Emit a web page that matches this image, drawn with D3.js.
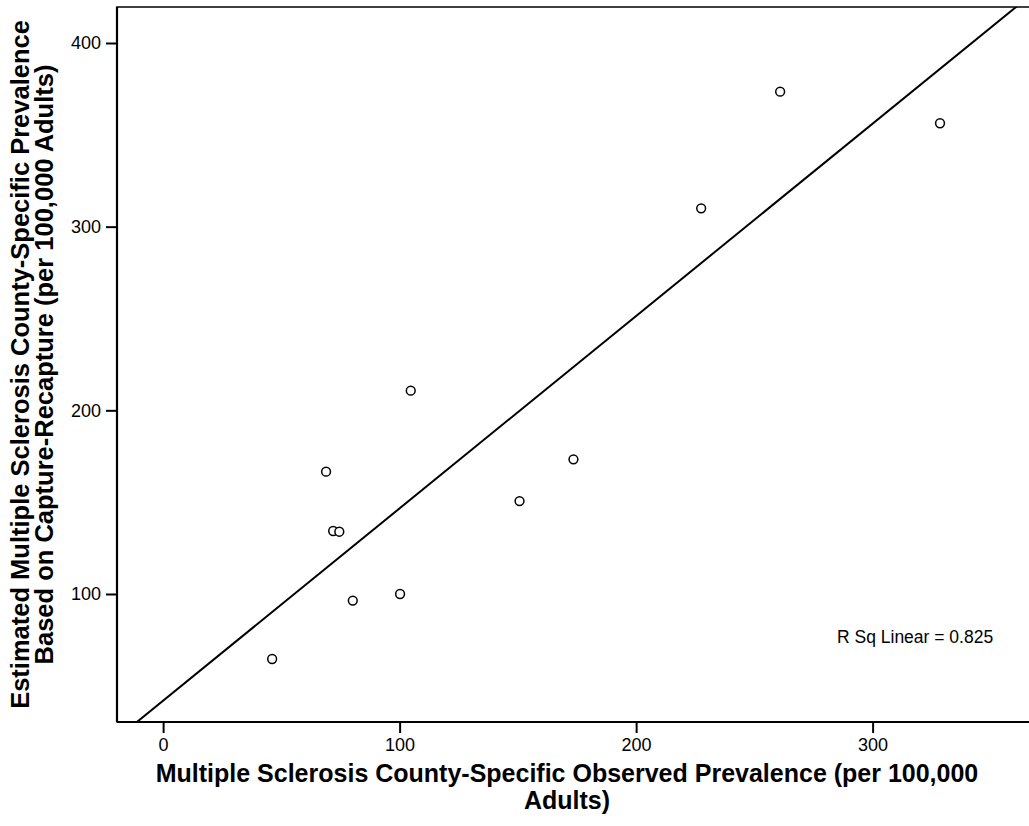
<!DOCTYPE html>
<html>
<head>
<meta charset="utf-8">
<script src="https://cdn.jsdelivr.net/npm/d3@7"></script>
<style>
  body { margin: 0; background: #fff; }
  svg text { font-family: Arial, "Liberation Sans", sans-serif; fill: #000; }
</style>
</head>
<body>
<svg id="chart" width="1029" height="826"></svg>
<script>
// observed prevalence (x) and capture-recapture estimate (y), per 100,000 adults
var observed  = [46.1, 68.9, 71.9, 74.5, 80.2, 100.2, 104.7, 150.7, 173.5, 227.5, 260.9, 328.5];
var estimated = [64.6, 166.6, 134.3, 133.9, 96.4, 100.0, 210.7, 150.6, 173.3, 310.0, 373.5, 356.3];

var xTicks = [0, 100, 200, 300];
var yTicks = [100, 200, 300, 400];

var xTitle = ["Multiple Sclerosis County-Specific Observed Prevalence (per 100,000", "Adults)"];
var yTitle = ["Estimated Multiple Sclerosis County-Specific Prevalence", "Based on Capture-Recapture (per 100,000 Adults)"];

var width = 1029, height = 826;
var plot = {left: 117, top: 7, right: 1040, bottom: 722};

var svg = d3.select("#chart");

var x = d3.scaleLinear().domain([-19.5, 370]).range([plot.left, plot.left + (370 + 19.5) * 2.365]);
var y = d3.scaleLinear().domain([30.3, 419.6]).range([plot.bottom, plot.top]);

// least squares fit
var mx = d3.mean(observed), my = d3.mean(estimated);
var sxy = 0, sxx = 0, syy = 0;
observed.forEach(function(v, i){
    sxy += (v - mx) * (estimated[i] - my);
    sxx += (v - mx) * (v - mx);
    syy += (estimated[i] - my) * (estimated[i] - my);
});
var slope = sxy / sxx, intercept = my - slope * mx;
var rsq = sxy * sxy / (sxx * syy);

svg.append("clipPath").attr("id", "clip")
    .append("rect")
    .attr("x", plot.left).attr("y", plot.top)
    .attr("width", plot.right - plot.left).attr("height", plot.bottom - plot.top);

// frame
svg.append("rect")
    .attr("x", plot.left).attr("y", plot.top)
    .attr("width", plot.right - plot.left).attr("height", plot.bottom - plot.top)
    .style("fill", "none").style("stroke", "#000").style("stroke-width", 1.5);

// fit line
var xd = x.domain();
svg.append("line")
    .attr("clip-path", "url(#clip)")
    .attr("x1", x(xd[0])).attr("y1", y(intercept + slope * xd[0]))
    .attr("x2", x(xd[1])).attr("y2", y(intercept + slope * xd[1]))
    .style("stroke", "#000").style("stroke-width", 2);

// points
svg.selectAll("circle.pt")
    .data(observed)
    .enter()
    .append("circle")
    .attr("class", "pt")
    .attr("cx", function(d){ return x(d); })
    .attr("cy", function(d, i){ return y(estimated[i]); })
    .attr("r", 4.4)
    .style("fill", "#fff")
    .style("stroke", "#000")
    .style("stroke-width", 1.5);

// axes
var xAxis = d3.axisBottom(x).tickValues(xTicks).tickSize(11).tickPadding(5).tickFormat(d3.format("d"));
var yAxis = d3.axisLeft(y).tickValues(yTicks).tickSize(11).tickPadding(5).tickFormat(d3.format("d"));

var gx = svg.append("g").attr("transform", "translate(0," + plot.bottom + ")").call(xAxis);
var gy = svg.append("g").attr("transform", "translate(" + plot.left + ",0)").call(yAxis);

[gx, gy].forEach(function(g){
    g.select(".domain").remove();
    g.selectAll(".tick line").style("stroke", "#000").style("stroke-width", 2);
    g.selectAll(".tick text").style("font-size", "18px").style("fill", "#000");
});

svg.append("line")
    .attr("x1", plot.left).attr("x2", width)
    .attr("y1", plot.bottom).attr("y2", plot.bottom)
    .style("stroke", "#000").style("stroke-width", 2.2);
svg.append("line")
    .attr("x1", plot.left).attr("x2", plot.left)
    .attr("y1", plot.top).attr("y2", plot.bottom)
    .style("stroke", "#000").style("stroke-width", 2.2);

// R squared label
svg.append("text")
    .attr("x", 837).attr("y", 643)
    .style("font-size", "17.5px")
    .text("R Sq Linear = " + rsq.toFixed(3));

// axis titles
svg.append("text")
    .attr("text-anchor", "middle")
    .style("font-size", "25px").style("font-weight", "bold")
    .selectAll("tspan")
    .data(xTitle)
    .enter()
    .append("tspan")
    .attr("x", 567)
    .attr("y", function(d, i){ return 782 + i * 27; })
    .text(function(d){ return d; });

svg.append("text")
    .attr("transform", "translate(29," + ((plot.top + plot.bottom) / 2) + ") rotate(-90)")
    .attr("text-anchor", "middle")
    .style("font-size", "25.5px").style("font-weight", "bold")
    .selectAll("tspan")
    .data(yTitle)
    .enter()
    .append("tspan")
    .attr("x", 0)
    .attr("dy", function(d, i){ return i === 0 ? 0 : 24; })
    .text(function(d){ return d; });
</script>
</body>
</html>
